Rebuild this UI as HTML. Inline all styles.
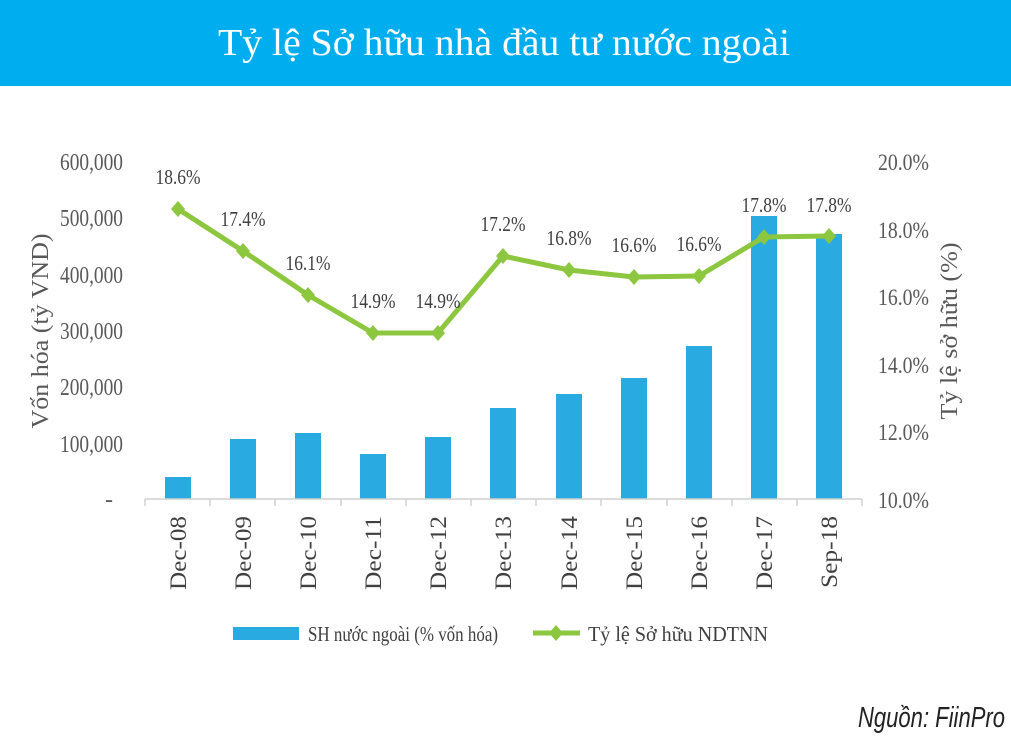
<!DOCTYPE html>
<html><head><meta charset="utf-8"><style>
body{margin:0;width:1011px;height:734px;background:#fff;overflow:hidden}
</style></head><body>
<svg width="1011" height="734" xmlns="http://www.w3.org/2000/svg" font-family="Liberation Serif, serif">
<rect x="0" y="0" width="1011" height="86" fill="#00AEEF"/>
<text x="218" y="55" fill="#fff" font-size="38" textLength="572" lengthAdjust="spacingAndGlyphs">Tỷ lệ Sở hữu nhà đầu tư nước ngoài</text>
<g fill="#595959" font-size="24" text-anchor="end">
<text x="123" y="170" textLength="63" lengthAdjust="spacingAndGlyphs">600,000</text><text x="123" y="226" textLength="63" lengthAdjust="spacingAndGlyphs">500,000</text><text x="123" y="283" textLength="63" lengthAdjust="spacingAndGlyphs">400,000</text>
<text x="123" y="339" textLength="63" lengthAdjust="spacingAndGlyphs">300,000</text><text x="123" y="395" textLength="63" lengthAdjust="spacingAndGlyphs">200,000</text><text x="123" y="452" textLength="63" lengthAdjust="spacingAndGlyphs">100,000</text>
<text x="113" y="507">-</text>
</g>
<g fill="#595959" font-size="23" text-anchor="start">
<text x="878" y="170" textLength="51" lengthAdjust="spacingAndGlyphs">20.0%</text><text x="878" y="238" textLength="51" lengthAdjust="spacingAndGlyphs">18.0%</text><text x="878" y="305" textLength="51" lengthAdjust="spacingAndGlyphs">16.0%</text>
<text x="878" y="373" textLength="51" lengthAdjust="spacingAndGlyphs">14.0%</text><text x="878" y="440" textLength="51" lengthAdjust="spacingAndGlyphs">12.0%</text><text x="878" y="508" textLength="51" lengthAdjust="spacingAndGlyphs">10.0%</text>
</g>
<text transform="translate(48,331) rotate(-90)" text-anchor="middle" fill="#595959" font-size="24" textLength="195" lengthAdjust="spacingAndGlyphs">Vốn hóa (tỷ VND)</text>
<text transform="translate(957,331) rotate(-90)" text-anchor="middle" fill="#595959" font-size="24" textLength="177" lengthAdjust="spacingAndGlyphs">Tỷ lệ sở hữu (%)</text>
<g fill="#29ABE2">
<rect x="165" y="477" width="26" height="22"/><rect x="230" y="439" width="26" height="60"/>
<rect x="295" y="433" width="26" height="66"/><rect x="360" y="454" width="26" height="45"/>
<rect x="425" y="437" width="26" height="62"/><rect x="490" y="408" width="26" height="91"/>
<rect x="556" y="394" width="26" height="105"/><rect x="621" y="378" width="26" height="121"/>
<rect x="686" y="346" width="26" height="153"/><rect x="751" y="216" width="26" height="283"/>
<rect x="816" y="234" width="26" height="265"/>
</g>
<g stroke="#d0d0d0" stroke-width="1.5">
<line x1="145" y1="499" x2="862" y2="499"/>
<line x1="145" y1="499" x2="145" y2="506"/><line x1="210" y1="499" x2="210" y2="506"/><line x1="275" y1="499" x2="275" y2="506"/><line x1="341" y1="499" x2="341" y2="506"/><line x1="406" y1="499" x2="406" y2="506"/><line x1="471" y1="499" x2="471" y2="506"/><line x1="536" y1="499" x2="536" y2="506"/><line x1="601" y1="499" x2="601" y2="506"/><line x1="667" y1="499" x2="667" y2="506"/><line x1="732" y1="499" x2="732" y2="506"/><line x1="797" y1="499" x2="797" y2="506"/><line x1="862" y1="499" x2="862" y2="506"/>
</g>
<polyline fill="none" stroke="#8DC63F" stroke-width="5" stroke-linejoin="round" points="178,209 243,251 308,295 373,333 438,333 503,256 569,270 634,277 699,276 764,237 829,236"/>
<g fill="#8DC63F">
<path d="M178,201 l7,8 -7,8 -7,-8z"/><path d="M243,243 l7,8 -7,8 -7,-8z"/><path d="M308,287 l7,8 -7,8 -7,-8z"/><path d="M373,325 l7,8 -7,8 -7,-8z"/><path d="M438,325 l7,8 -7,8 -7,-8z"/><path d="M503,248 l7,8 -7,8 -7,-8z"/><path d="M569,262 l7,8 -7,8 -7,-8z"/><path d="M634,269 l7,8 -7,8 -7,-8z"/><path d="M699,268 l7,8 -7,8 -7,-8z"/><path d="M764,229 l7,8 -7,8 -7,-8z"/><path d="M829,228 l7,8 -7,8 -7,-8z"/>
</g>
<g fill="#404040" font-size="21" text-anchor="middle">
<text x="178" y="184" textLength="45" lengthAdjust="spacingAndGlyphs">18.6%</text><text x="243" y="226" textLength="45" lengthAdjust="spacingAndGlyphs">17.4%</text><text x="308" y="270" textLength="45" lengthAdjust="spacingAndGlyphs">16.1%</text><text x="373" y="308" textLength="45" lengthAdjust="spacingAndGlyphs">14.9%</text><text x="438" y="308" textLength="45" lengthAdjust="spacingAndGlyphs">14.9%</text><text x="503" y="231" textLength="45" lengthAdjust="spacingAndGlyphs">17.2%</text><text x="569" y="245" textLength="45" lengthAdjust="spacingAndGlyphs">16.8%</text><text x="634" y="252" textLength="45" lengthAdjust="spacingAndGlyphs">16.6%</text><text x="699" y="251" textLength="45" lengthAdjust="spacingAndGlyphs">16.6%</text><text x="764" y="212" textLength="45" lengthAdjust="spacingAndGlyphs">17.8%</text><text x="829" y="212" textLength="45" lengthAdjust="spacingAndGlyphs">17.8%</text>
</g>
<g fill="#404040" font-size="23" text-anchor="end">
<text transform="translate(186,516) rotate(-90)" textLength="74" lengthAdjust="spacingAndGlyphs">Dec-08</text><text transform="translate(251,516) rotate(-90)" textLength="74" lengthAdjust="spacingAndGlyphs">Dec-09</text><text transform="translate(316,516) rotate(-90)" textLength="74" lengthAdjust="spacingAndGlyphs">Dec-10</text><text transform="translate(381,516) rotate(-90)" textLength="74" lengthAdjust="spacingAndGlyphs">Dec-11</text><text transform="translate(446,516) rotate(-90)" textLength="74" lengthAdjust="spacingAndGlyphs">Dec-12</text><text transform="translate(511,516) rotate(-90)" textLength="74" lengthAdjust="spacingAndGlyphs">Dec-13</text><text transform="translate(577,516) rotate(-90)" textLength="74" lengthAdjust="spacingAndGlyphs">Dec-14</text><text transform="translate(642,516) rotate(-90)" textLength="74" lengthAdjust="spacingAndGlyphs">Dec-15</text><text transform="translate(707,516) rotate(-90)" textLength="74" lengthAdjust="spacingAndGlyphs">Dec-16</text><text transform="translate(772,516) rotate(-90)" textLength="74" lengthAdjust="spacingAndGlyphs">Dec-17</text><text transform="translate(837,516) rotate(-90)" textLength="72" lengthAdjust="spacingAndGlyphs">Sep-18</text>
</g>
<rect x="233" y="627" width="66" height="13" fill="#29ABE2"/>
<text x="308" y="641" fill="#404040" font-size="21" textLength="190" lengthAdjust="spacingAndGlyphs">SH nước ngoài (% vốn hóa)</text>
<line x1="533" y1="633" x2="580" y2="633" stroke="#8DC63F" stroke-width="5"/>
<path d="M556,625 l7,8 -7,8 -7,-8z" fill="#8DC63F"/>
<text x="588" y="641" fill="#404040" font-size="21" textLength="180" lengthAdjust="spacingAndGlyphs">Tỷ lệ Sở hữu NDTNN</text>
<text x="858" y="727" fill="#222" font-size="29" font-style="italic" font-family="Liberation Sans, sans-serif" textLength="147" lengthAdjust="spacingAndGlyphs">Nguồn: FiinPro</text>
</svg>
</body></html>
